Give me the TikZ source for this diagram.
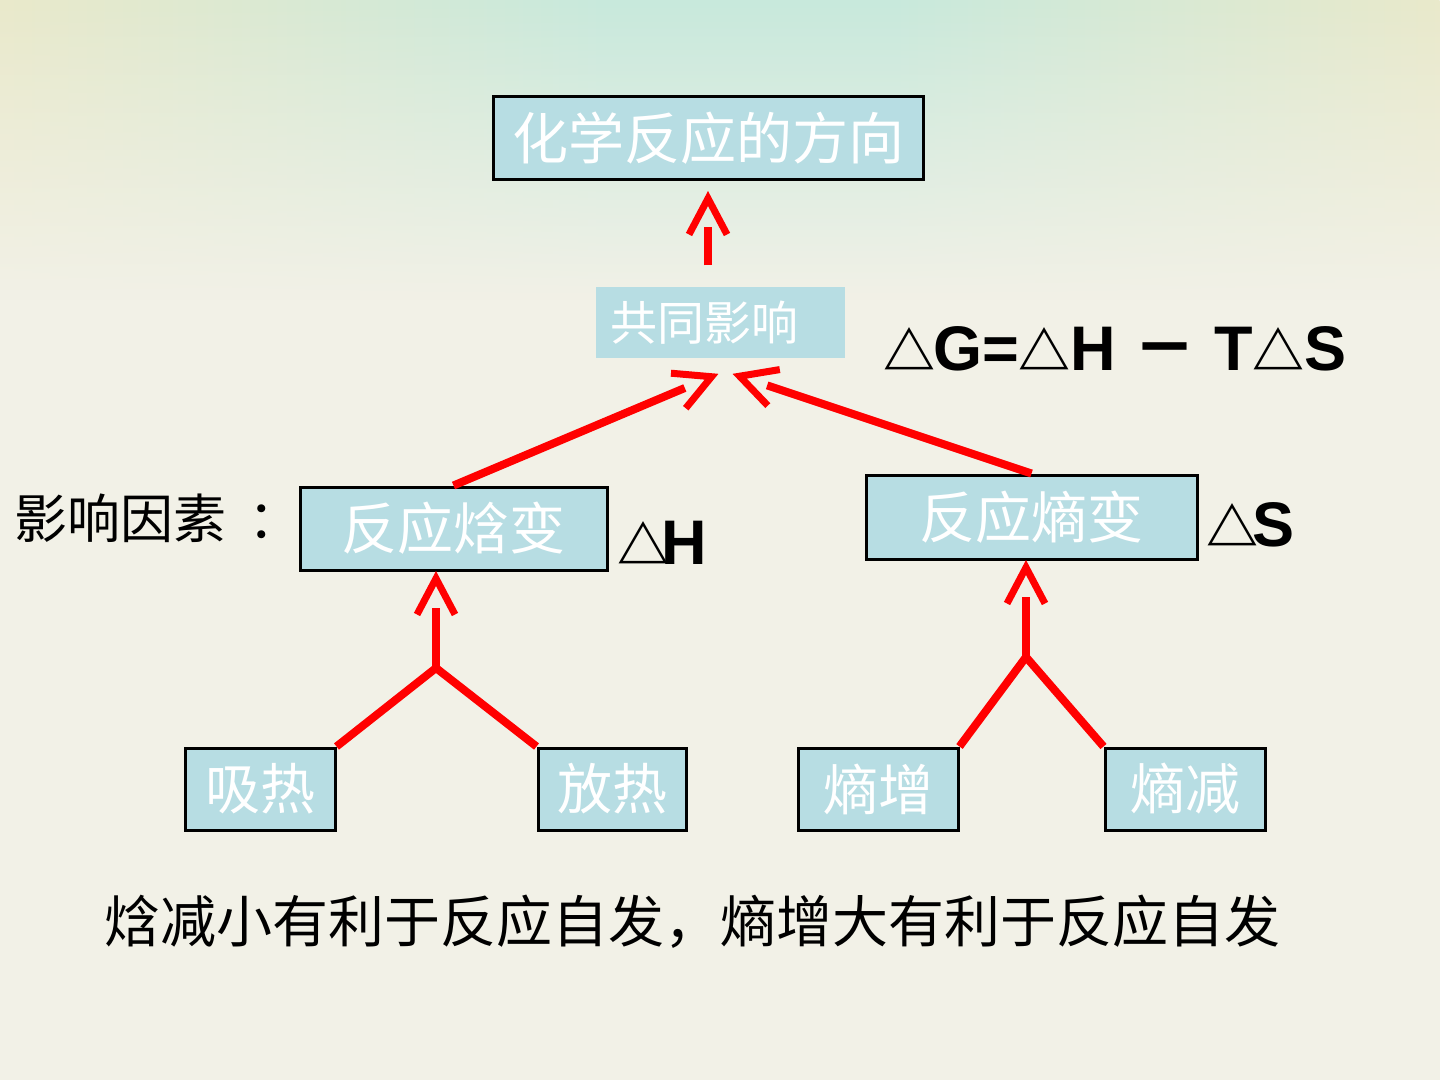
\documentclass[tikz,border=0pt]{standalone}
\usepackage{fontspec}
\setmainfont{Liberation Sans}
\newfontfamily\cjk{Noto Sans CJK SC}
\usepackage{tikz}
\usetikzlibrary{calc,arrows.meta,positioning,fadings,decorations.markings}
\definecolor{bgCream}{RGB}{242,241,231}
\definecolor{bgMint}{RGB}{200,233,220}
\definecolor{bgSand}{RGB}{238,233,200}
\definecolor{boxBlue}{RGB}{183,221,227}
\definecolor{arrowRed}{RGB}{255,0,0}
\pgfdeclarehorizontalshading{topglow}{100bp}{color(0bp)=(bgMint); color(22bp)=(bgSand);
    color(46bp)=(bgMint); color(56bp)=(bgMint); color(78bp)=(bgSand); color(100bp)=(bgMint)}
\newcommand{\tri}{{\cjk\fontsize{26pt}{28pt}\selectfont △}}

\begin{document}
\begin{tikzpicture}[x=0.5pt,y=0.5pt,
    box/.style={draw=black, line width=1.5pt, fill=boxBlue, text=white, inner sep=0pt,
        font=\cjk\fontsize{28pt}{30pt}\selectfont},
    leaf/.style={box, minimum height=41pt, font=\cjk\fontsize{27.5pt}{30pt}\selectfont},
    formula/.style={inner sep=0pt, font=\bfseries\fontsize{31.5pt}{34pt}\selectfont},
    redline/.style={arrowRed, line width=4pt},
    chevron/.style={postaction={decorate, decoration={markings, mark=at position 1 with
        {\draw[arrowRed, line width=3.5pt, line join=miter, shorten >=0pt, shorten <=0pt]
            (-21.5pt,9.5pt) -- (-3.5pt,0pt) -- (-21.5pt,-9.5pt);}}}},
    uparrow/.style={redline, shorten >=18pt, chevron}]
    % background
    \fill[bgCream] (0,0) rectangle (1440,-1080);
    \shade[shading=topglow, path fading=south] (0,0) rectangle (1440,-300);

    % boxes
    \node[box, minimum width=215pt, minimum height=41.5pt] (dir) at (708,-138.5) {化学反应的方向};
    \node[box, draw=none, minimum height=35.5pt, text width=110.5pt, align=left, inner xsep=7pt,
        font=\cjk\fontsize{23.5pt}{26pt}\selectfont] (joint) at (720.5,-322.5) {共同影响};
    \node[box, minimum width=153.5pt, minimum height=41.5pt] (dH) at (453.5,-528.5) {反应焓变};
    \node[box, minimum width=165.5pt, minimum height=42pt] (dS) at (1031.5,-517) {反应熵变};
    \node[leaf, minimum width=75pt] (xiRe) at (260,-789) {吸热};
    \node[leaf, minimum width=74pt] (fangRe) at (612,-789) {放热};
    \node[leaf, minimum width=80pt] (zeng) at (878,-789) {熵增};
    \node[leaf, minimum width=80pt] (jian) at (1185,-789) {熵减};

    % labels
    \node[inner sep=0pt, font=\cjk\fontsize{26.5pt}{28pt}\selectfont] (factor) at (158,-518) {影响因素\kern11pt：};
    \node[formula] (gibbs) at (1115,-349) {\tri\kern-1pt G=\tri H {\cjk －} T\tri S};
    \node[formula] (symH) at (662,-543) {\tri\kern-4pt H};
    \node[formula] (symS) at (1250,-525) {\tri\kern-3pt S};
    \node[inner sep=0pt, font=\cjk\fontsize{28pt}{30pt}\selectfont] (rule) at (692,-922)
        {焓减小有利于反应自发，熵增大有利于反应自发};

    % connectors
    \coordinate (topTail) at ($(joint.north -| dir.south)+(0,20)$);
    \coordinate (topTip) at ($(dir.south)+(0,-10)$);
    \coordinate (jL) at (436,-668);
    \coordinate (jR) at (1026,-657);
    \coordinate (tipL) at (718,-374);
    \coordinate (tipR) at (733,-374);
    \draw[uparrow] (topTail) -- (topTip);
    \draw[uparrow] (dH.north) -- (tipL);
    \draw[uparrow] (dS.north) -- (tipR);
    \draw[uparrow] (jL) -- (jL |- dH.south);
    \draw[uparrow] (jR) -- (jR |- dS.south);
    \draw[redline] (xiRe.north east) -- (jL) -- (fangRe.north west);
    \draw[redline] (zeng.north east) -- (jR) -- (jian.north west);
\end{tikzpicture}
\end{document}
